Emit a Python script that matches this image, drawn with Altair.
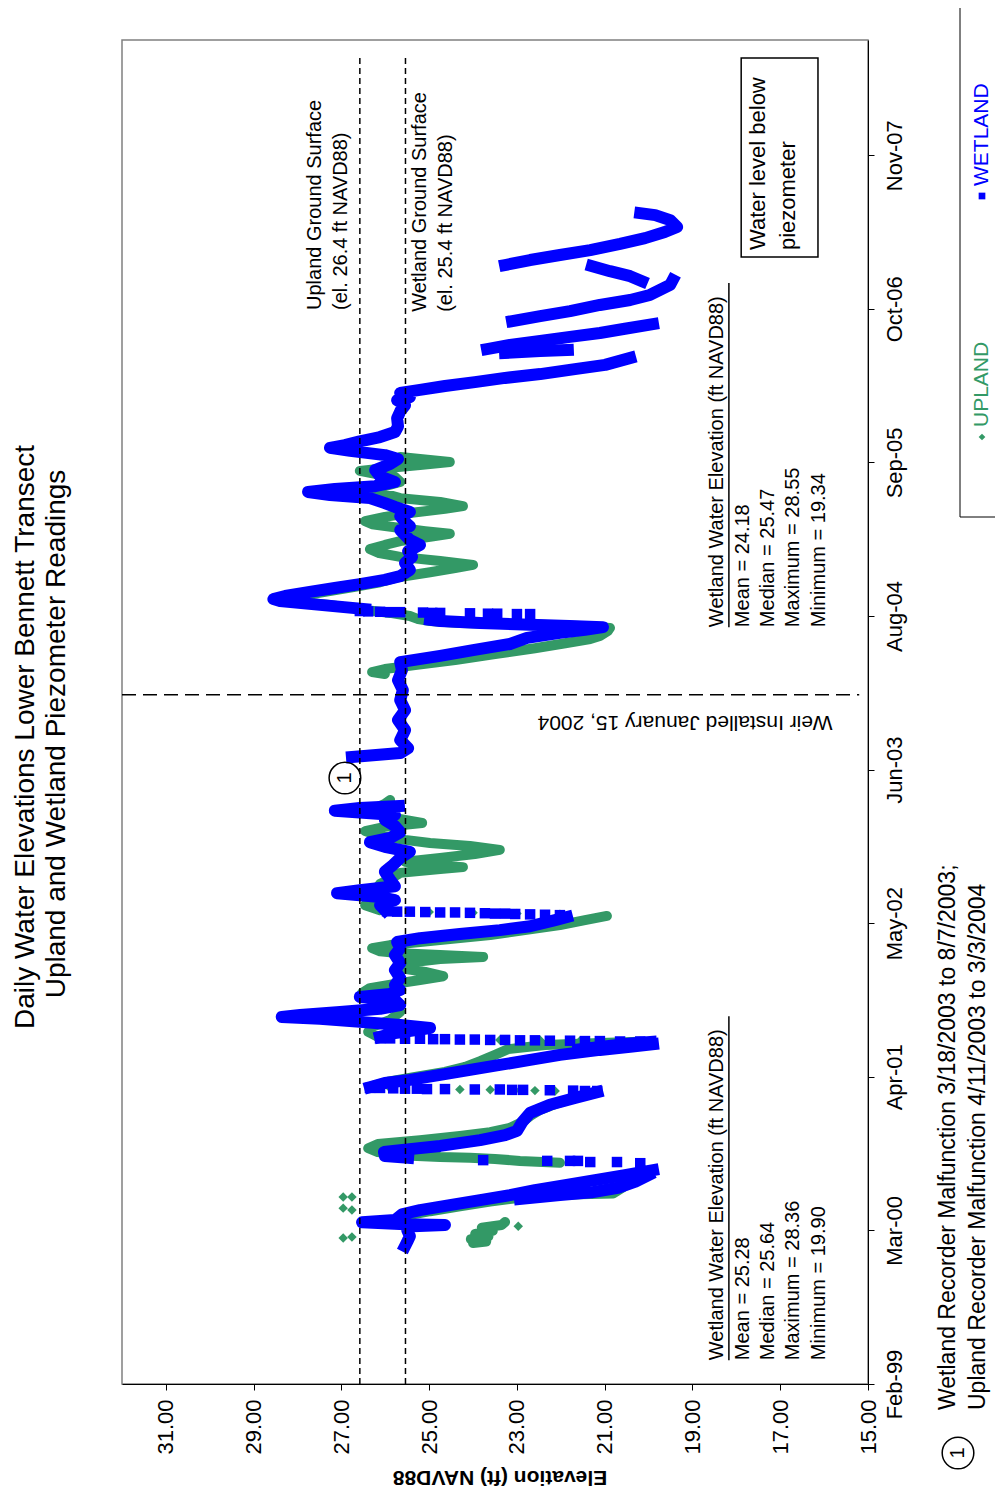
import altair as alt
import pandas as pd

FONT = "Liberation Sans"
BLUE = "#0000FF"
GREEN = "#339966"

# ---------------- axis ticks ----------------
elev_ticks = [15, 17, 19, 21, 23, 25, 27, 29, 31]
# dates are Excel serial day numbers (days since 1899-12-30)
date_ticks = [36201, 36601, 37001, 37401, 37801, 38201, 38601, 39001, 39401]
date_tick_labels = ["Feb-99", "Mar-00", "Apr-01", "May-02", "Jun-03",
                    "Aug-04", "Sep-05", "Oct-06", "Nov-07"]

# ---------------- WETLAND piezometer: continuous runs ----------------
wet_run_days = [
    [36560, 36576, 36586, 36602, 36612, 36615, 36617, 36622, 36628, 36643, 36654, 36667, 36680, 36693, 36706, 36719, 36732, 36745, 36758],
    [36683, 36693, 36700, 36712, 36728, 36745],
    [36790, 36795, 36805, 36810, 36821, 36836, 36849, 36860, 36883, 36907, 36928, 36946, 36961],
    [36974, 36985, 36993, 37006, 37019, 37032, 37045, 37058, 37071, 37079, 37086],
    [37072, 37080, 37088, 37092],
    [37105, 37115, 37128, 37136, 37144, 37152, 37157, 37162, 37170, 37178, 37188, 37201, 37209, 37217, 37227, 37240, 37258, 37279, 37297, 37318, 37336, 37352, 37362, 37373, 37383, 37393, 37409, 37417],
    [37435, 37448, 37461, 37469, 37479, 37487, 37497, 37514, 37535, 37553, 37571, 37587, 37600, 37612, 37623, 37638, 37654, 37670, 37683, 37694, 37701, 37706],
    [37834, 37844, 37857, 37878, 37904, 37930, 37956, 37982, 38008, 38034, 38060, 38081, 38097, 38112, 38128, 38144, 38157, 38165, 38172, 38175, 38178, 38183, 38188, 38191],
    [38219, 38230, 38240, 38245, 38253, 38264, 38274, 38284, 38295, 38305, 38321, 38339, 38355, 38370, 38386, 38399, 38412, 38425, 38435, 38446, 38461, 38472, 38485, 38495, 38508, 38516, 38524, 38532, 38539, 38550, 38565, 38581, 38597, 38610, 38620, 38631, 38639, 38646, 38656, 38667, 38680, 38695, 38716, 38734, 38750, 38763, 38771, 38782, 38790, 38800, 38810, 38821, 38831, 38844, 38855, 38873],
    [38886, 38891, 38894],
    [38896, 38907, 38917, 38928, 38938, 38949, 38961],
    [38969, 38982, 38995, 39011, 39024, 39037, 39050, 39063, 39076],
    [39073, 39086, 39099, 39112],
    [39115, 39128, 39141, 39154, 39170, 39185, 39201, 39214, 39232, 39245, 39250],
]
wet_run_elevs = [
    [25.55, 25.48, 25.44, 25.50, 25.37, 24.64, 25.55, 26.53, 25.78, 25.62, 25.21, 24.53, 23.84, 23.16, 22.59, 21.90, 21.22, 20.54, 19.90],
    [22.93, 22.02, 21.30, 20.70, 20.30, 20.00],
    [25.48, 26.01, 26.03, 25.66, 24.75, 23.84, 23.27, 23.00, 22.88, 22.70, 22.25, 21.68, 21.17],
    [26.35, 26.01, 25.44, 24.75, 24.07, 23.39, 22.70, 22.02, 21.11, 20.42, 19.90],
    [21.60, 21.00, 20.40, 19.95],
    [26.12, 25.78, 24.98, 25.66, 26.58, 27.49, 28.36, 27.94, 27.03, 26.12, 25.66, 25.78, 26.58, 25.89, 25.66, 25.78, 25.66, 25.78, 25.66, 25.78, 25.66, 25.73, 25.21, 24.30, 23.39, 22.70, 22.13, 21.86],
    [26.01, 26.12, 25.78, 26.12, 27.10, 26.58, 25.78, 25.89, 26.01, 25.82, 25.66, 25.44, 26.01, 26.35, 25.89, 25.66, 25.78, 26.01, 25.78, 27.15, 26.58, 25.69],
    [26.76, 25.66, 25.48, 25.66, 25.55, 25.71, 25.55, 25.66, 25.60, 25.71, 25.62, 25.66, 24.75, 24.00, 23.16, 22.77, 22.02, 21.45, 21.04, 21.80, 22.70, 23.84, 24.75, 24.98],
    [26.46, 27.49, 28.40, 28.55, 28.28, 27.72, 27.15, 26.58, 26.01, 25.66, 25.44, 25.55, 25.39, 25.48, 25.21, 25.44, 25.55, 25.66, 25.44, 25.55, 25.66, 25.44, 25.78, 26.01, 26.35, 27.26, 27.76, 27.15, 26.23, 25.78, 26.12, 26.23, 25.89, 25.71, 26.01, 26.80, 27.26, 26.92, 26.58, 26.12, 25.78, 25.71, 25.73, 25.66, 25.55, 25.73, 25.44, 25.66, 25.21, 24.64, 23.96, 23.27, 22.47, 21.68, 20.99, 20.42],
    [23.27, 22.47, 21.84],
    [23.68, 23.16, 22.47, 21.79, 21.11, 20.54, 19.90],
    [23.11, 22.47, 21.79, 21.11, 20.42, 19.97, 19.74, 19.51, 19.45],
    [20.15, 20.42, 20.88, 21.29],
    [23.27, 22.70, 22.02, 21.33, 20.65, 20.08, 19.63, 19.35, 19.51, 19.85, 20.19],
]
# WETLAND single readings during rapid rises
wet_sq_day = [
    36776, 36779, 36779, 36782, 36782, 36782, 36784,
    36964, 36964, 36965, 36966, 36967, 36967, 36968, 36968, 36969, 36969, 36970, 36970, 36971, 36972, 36972,
    37093, 37093, 37094, 37094, 37095, 37095, 37096, 37096, 37097, 37097, 37098, 37098, 37099, 37099, 37100, 37100, 37101, 37101,
    37422, 37423, 37424, 37425, 37426, 37426, 37427, 37428, 37429, 37429, 37430, 37431, 37431, 37432,
    38206, 38206, 38207, 38207, 38208, 38209, 38209, 38210, 38211, 38211, 38212, 38213, 38214,
]
wet_sq_elev = [
    20.19, 20.72, 21.33, 21.61, 21.79, 22.31, 23.77,
    21.17, 21.45, 21.72, 22.25, 22.86, 23.11, 23.39, 23.96, 24.64, 25.05, 25.28, 25.55, 25.82, 26.12, 26.35,
    20.19, 20.65, 21.11, 21.45, 21.79, 22.25, 22.59, 22.93, 23.27, 23.61, 23.96, 24.30, 24.64, 24.91, 25.21, 25.55, 25.89, 26.12,
    22.02, 22.36, 22.70, 23.04, 23.27, 23.50, 23.73, 24.07, 24.41, 24.75, 25.09, 25.44, 25.73, 25.96,
    22.70, 23.00, 23.45, 23.66, 24.07, 24.75, 24.93, 25.14, 25.66, 25.89, 26.12, 26.39, 26.58,
]

# ---------------- UPLAND piezometer: continuous runs ----------------
up_run_days = [
    [36568, 36572, 36578, 36585, 36592, 36600, 36608, 36615, 36623],
    [36636, 36651, 36664, 36676, 36686, 36692, 36695, 36697, 36712, 36730, 36750, 36765],
    [36777, 36782, 36787, 36790, 36792, 36797, 36805, 36815, 36826, 36836, 36847, 36857, 36868, 36883, 36899, 36915, 36930, 36946, 36959],
    [36977, 36988, 37001, 37014, 37027, 37042, 37058, 37073, 37084, 37089, 37092],
    [37105, 37118, 37131, 37149, 37170, 37188, 37206, 37219, 37232, 37243, 37253, 37263, 37274, 37284, 37297, 37308, 37313, 37318, 37323, 37328, 37336, 37344, 37352, 37360, 37370, 37383, 37396, 37409, 37420],
    [37435, 37448, 37461, 37474, 37487, 37503, 37519, 37532, 37542, 37547, 37553, 37561, 37571, 37581, 37592, 37602, 37610, 37618, 37628, 37641, 37652, 37662, 37670, 37680, 37691, 37701, 37712, 37722],
    [38050, 38055, 38063, 38073, 38086, 38102, 38117, 38130, 38141, 38149, 38162, 38170, 38175, 38178, 38180, 38183, 38188, 38193, 38201, 38209, 38217, 38230, 38240, 38245, 38253, 38264, 38277, 38289, 38302, 38315, 38326, 38334, 38344, 38355, 38365, 38375, 38386, 38396, 38407, 38415, 38422, 38430, 38440, 38448, 38459, 38469, 38480, 38487, 38498, 38508, 38519, 38529, 38539, 38550, 38563, 38571, 38579, 38586, 38594, 38602, 38610, 38615],
]
up_run_elevs = [
    [24.00, 23.70, 24.05, 23.65, 23.95, 23.55, 23.80, 23.35, 23.27],
    [25.66, 24.98, 24.30, 23.61, 22.93, 22.25, 21.56, 20.81, 20.60, 20.40, 20.05, 20.19],
    [22.02, 22.93, 23.50, 24.07, 24.75, 25.66, 26.17, 26.39, 26.17, 25.21, 24.30, 23.61, 23.16, 22.88, 22.70, 22.47, 22.13, 21.68, 21.22],
    [26.30, 25.94, 25.32, 24.64, 24.18, 23.84, 23.50, 23.20, 22.36, 21.11, 20.19],
    [26.17, 26.39, 26.30, 25.89, 25.66, 25.78, 26.23, 26.53, 26.35, 25.78, 25.21, 24.68, 25.09, 25.66, 25.55, 24.75, 23.77, 24.75, 25.66, 26.12, 26.30, 25.89, 25.21, 24.53, 23.61, 22.82, 22.02, 21.45, 20.95],
    [26.12, 26.46, 26.30, 26.01, 26.23, 26.12, 25.85, 25.66, 24.75, 24.23, 24.98, 25.55, 24.75, 23.96, 23.39, 24.07, 24.98, 25.55, 26.12, 26.46, 26.01, 25.16, 25.55, 26.01, 26.30, 26.23, 26.01, 25.89],
    [26.01, 26.30, 26.01, 25.32, 24.41, 23.50, 22.59, 21.90, 21.33, 21.11, 20.93, 20.88, 21.56, 22.47, 23.39, 24.30, 24.98, 25.25, 25.44, 25.89, 26.46, 27.26, 28.17, 28.28, 27.94, 27.37, 26.69, 26.12, 25.71, 24.98, 24.41, 24.00, 24.75, 25.66, 26.14, 26.35, 26.01, 25.66, 24.98, 24.53, 25.09, 25.66, 26.30, 26.46, 26.01, 25.44, 24.64, 24.23, 24.75, 25.66, 26.01, 26.58, 26.01, 25.66, 25.78, 26.23, 26.58, 26.01, 25.21, 24.53, 25.21, 25.66],
]
# UPLAND single readings
up_pt_day = [36581, 36584, 36654, 36659, 36688, 36688, 36612,
             36964, 36965, 36966, 36967, 36968, 36969, 36971,
             37095, 37096, 37097, 37098, 37099,
             37424, 37426, 37428, 37430]
up_pt_elev = [26.96, 26.76, 26.76, 26.96, 26.96, 26.76, 22.97,
              22.13, 22.59, 22.93, 23.61, 24.30, 25.21, 25.89,
              21.56, 22.47, 23.39, 24.30, 25.21,
              22.02, 23.00, 24.00, 25.00]

# reference lines
ground_elev = [26.58, 25.54]          # upland / wetland ground surface lines
ground_day_range = [36201, 39654]
weir_day = 37996                       # weir installed, Jan 2004


def runs_frame(run_days, run_elevs, prefix):
    rows = []
    for r, (ds, es) in enumerate(zip(run_days, run_elevs)):
        for i, (d, e) in enumerate(zip(ds, es)):
            rows.append({"run": f"{prefix}{r}", "i": i, "day": d, "elev": e})
    return pd.DataFrame(rows)


wet_lines = runs_frame(wet_run_days, wet_run_elevs, "w")
up_lines = runs_frame(up_run_days, up_run_elevs, "u")
wet_pts = pd.DataFrame({"day": wet_sq_day, "elev": wet_sq_elev})
up_pts = pd.DataFrame({"day": up_pt_day, "elev": up_pt_elev})

xscale = alt.Scale(domain=[15, 32], reverse=True, nice=False, zero=False)
yscale = alt.Scale(domain=[36201, 39701], nice=False, zero=False)

label_expr = ("[" + ",".join(f"'{s}'" for s in date_tick_labels) + "][indexof(["
              + ",".join(str(v) for v in date_ticks) + "], datum.value)]")

x_axis = alt.Axis(values=elev_ticks, format=".2f", labelAngle=270, labelAlign="right",
                  labelBaseline="middle", labelFont=FONT, labelFontSize=22, labelColor="black",
                  labelPadding=9, labelFlush=False, labelOverlap=False, tickSize=6,
                  tickColor="black", domainColor="black", grid=False, title=None)
y_axis = alt.Axis(orient="right", values=date_ticks, labelExpr=label_expr, labelAngle=270,
                  labelAlign="center", labelBaseline="top", labelFont=FONT, labelFontSize=22,
                  labelColor="black", labelPadding=10, labelFlush=False, labelOverlap=False,
                  tickSize=6, tickColor="black", domainColor="black", grid=False, title=None)

X = alt.X("elev:Q", scale=xscale, axis=x_axis)
Y = alt.Y("day:Q", scale=yscale, axis=y_axis)

ONE = pd.DataFrame({"k": [0]})


def ptext(txt, px, py, size, angle=270, align="left", color="black", weight="normal"):
    return alt.Chart(ONE).mark_text(text=txt, angle=angle, align=align, baseline="middle",
                                    font=FONT, fontSize=size, color=color,
                                    fontWeight=weight).encode(x=alt.value(px), y=alt.value(py))


layers = []

# data
layers.append(alt.Chart(up_lines).mark_line(color=GREEN, strokeWidth=10, strokeJoin="round",
                                            strokeCap="round").encode(x=X, y=Y, detail="run:N", order="i:Q"))
layers.append(alt.Chart(up_pts).mark_point(shape="diamond", filled=True, color=GREEN, size=90,
                                           opacity=1).encode(x=X, y=Y))
layers.append(alt.Chart(wet_lines).mark_line(color=BLUE, strokeWidth=12, strokeJoin="round",
                                             strokeCap="square").encode(x=X, y=Y, detail="run:N", order="i:Q"))
layers.append(alt.Chart(wet_pts).mark_square(color=BLUE, size=110, opacity=1).encode(x=X, y=Y))

# reference lines
ground_df = pd.DataFrame({"elev": ground_elev, "day": [ground_day_range[0]] * 2,
                          "day2": [ground_day_range[1]] * 2})
layers.append(alt.Chart(ground_df).mark_rule(color="black", strokeWidth=1.5, strokeDash=[6, 4])
              .encode(x=X, y=Y, y2="day2:Q"))
weir_df = pd.DataFrame({"elev": [32.0], "elev2": [15.2], "day": [weir_day]})
layers.append(alt.Chart(weir_df).mark_rule(color="black", strokeWidth=1.5, strokeDash=[14, 7])
              .encode(x=X, x2="elev2:Q", y=Y))

# in-plot annotations (placed in data units)
ann = pd.DataFrame({
    "text": ["Upland Ground Surface", "(el. 26.4 ft NAVD88)",
             "Wetland Ground Surface", "(el. 25.4 ft NAVD88)",
             "Wetland Water Elevation (ft NAVD88)", "Mean = 24.18", "Median = 25.47",
             "Maximum = 28.55", "Minimum = 19.34",
             "Wetland Water Elevation (ft NAVD88)", "Mean = 25.28", "Median = 25.64",
             "Maximum = 28.36", "Minimum = 19.90"],
    "elev": [27.60, 27.01, 25.21, 24.62,
             18.44, 17.85, 17.28, 16.71, 16.12,
             18.44, 17.85, 17.28, 16.71, 16.12],
    "day": [38998, 38998, 38993, 38993,
            38172, 38172, 38172, 38172, 38172,
            36263, 36263, 36263, 36263, 36263],
})
layers.append(alt.Chart(ann).mark_text(angle=270, align="left", baseline="middle", font=FONT,
                                       fontSize=20, color="black").encode(x=X, y=Y, text="text:N"))

underline_df = pd.DataFrame({"elev": [18.17, 18.17], "day": [38172, 36263], "day2": [39068, 37159]})
layers.append(alt.Chart(underline_df).mark_rule(color="black", strokeWidth=1.5)
              .encode(x=X, y=Y, y2="day2:Q"))

box_df = pd.DataFrame({"elev": [17.89], "elev2": [16.14], "day": [39136], "day2": [39654]})
layers.append(alt.Chart(box_df).mark_rect(fill="white", stroke="black", strokeWidth=1.5)
              .encode(x=X, x2="elev2:Q", y=Y, y2="day2:Q"))
box_txt = pd.DataFrame({"text": ["Water level below", "piezometer"],
                        "elev": [17.51, 16.82], "day": [39154, 39154]})
layers.append(alt.Chart(box_txt).mark_text(angle=270, align="left", baseline="middle", font=FONT,
                                           fontSize=22, color="black").encode(x=X, y=Y, text="text:N"))

weir_txt = pd.DataFrame({"text": ["Weir Installed January 15, 2004"], "elev": [19.17], "day": [37925]})
layers.append(alt.Chart(weir_txt).mark_text(angle=180, align="center", baseline="middle", font=FONT,
                                            fontSize=21, color="black").encode(x=X, y=Y, text="text:N"))

note_df = pd.DataFrame({"text": ["1"], "elev": [26.92], "day": [37779]})
layers.append(alt.Chart(note_df).mark_point(shape="circle", size=1000, filled=False, color="black",
                                            strokeWidth=1.5, opacity=1).encode(x=X, y=Y))
layers.append(alt.Chart(note_df).mark_text(angle=270, align="center", baseline="middle", font=FONT,
                                           fontSize=20, color="black").encode(x=X, y=Y, text="text:N"))

# titles, footnote, legend (outside the plot area, pixel offsets from plot origin)
layers.append(ptext("Daily Water Elevations Lower Bennett Transect", -96, 697, 28, align="center"))
layers.append(ptext("Upland and Wetland Piezometer Readings", -65, 694, 28, align="center"))
layers.append(ptext("Elevation (ft) NAVD88", 378, 1437, 21, angle=180, align="center", weight="bold"))

layers.append(alt.Chart(ONE).mark_point(shape="circle", size=1000, filled=False, color="black",
                                        strokeWidth=1.5, opacity=1)
              .encode(x=alt.value(836), y=alt.value(1413)))
layers.append(ptext("1", 836, 1413, 20, align="center"))
layers.append(ptext("Wetland Recorder Malfunction 3/18/2003 to 8/7/2003;", 826, 1370, 23))
layers.append(ptext("Upland Recorder Malfunction 4/11/2003 to 3/3/2004", 856, 1370, 23))

layers.append(alt.Chart(ONE).mark_rect(fill="white", stroke="black", strokeWidth=1)
              .encode(x=alt.value(838), x2=alt.value(900), y=alt.value(-35), y2=alt.value(477)))
layers.append(alt.Chart(ONE).mark_point(shape="diamond", filled=True, color=GREEN, size=45, opacity=1)
              .encode(x=alt.value(860), y=alt.value(397)))
layers.append(ptext("UPLAND", 860, 387, 21, color=GREEN))
layers.append(alt.Chart(ONE).mark_square(color=BLUE, size=45, opacity=1)
              .encode(x=alt.value(860), y=alt.value(156)))
layers.append(ptext("WETLAND", 860, 146, 21, color=BLUE))

chart = (alt.layer(*layers)
         .properties(width=746, height=1344,
                     autosize=alt.AutoSizeParams(type="none"),
                     padding={"left": 114, "top": 32, "right": 127, "bottom": 107})
         .configure_view(stroke="#808080", strokeWidth=1.5))

chart.save("out.html", embed_options={"renderer": "svg", "actions": False})
